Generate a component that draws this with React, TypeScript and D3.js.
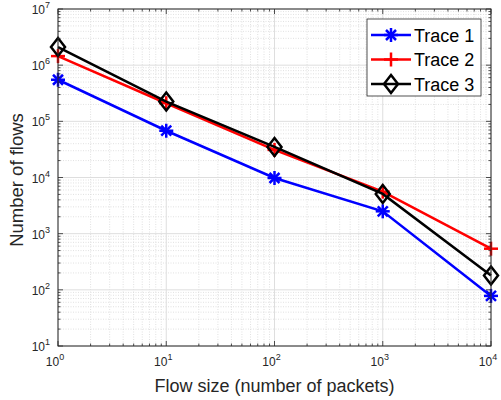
import React from 'react';
import * as d3 from 'd3';

const flowSizes = [1, 10, 100, 1000, 10000];
const trace1 = [5.5e5, 6.8e4, 9.8e3, 2.5e3, 78];
const trace2 = [1.45e6, 2.1e5, 3.1e4, 5.6e3, 540];
const trace3 = [2.1e6, 2.25e5, 3.5e4, 5.1e3, 180];
const seriesNames = ['Trace 1', 'Trace 2', 'Trace 3'];
const seriesColors = ['#0000ff', '#ff0000', '#000000'];
const seriesMarkers = ['asterisk', 'plus', 'diamond'];
const xTickExps = [0, 1, 2, 3, 4];
const yTickExps = [1, 2, 3, 4, 5, 6, 7];

const W = 501;
const H = 400;
const left = 58, right = 491, top = 9, bottom = 346;
const axisColor = '#262626';
const font = 'Arial, "Liberation Sans", Helvetica, sans-serif';
const lw = 2.5;

function Marker({ type, x, y, color }: { type: string; x: number; y: number; color: string }) {
  if (type === 'asterisk') {
    const r = 7, d = 5;
    return (
      <g stroke={color} strokeWidth={lw} fill="none">
        <line x1={x} y1={y - r} x2={x} y2={y + r} />
        <line x1={x - r} y1={y} x2={x + r} y2={y} />
        <line x1={x - d} y1={y - d} x2={x + d} y2={y + d} />
        <line x1={x - d} y1={y + d} x2={x + d} y2={y - d} />
      </g>
    );
  }
  if (type === 'plus') {
    const r = 7;
    return (
      <g stroke={color} strokeWidth={lw} fill="none">
        <line x1={x} y1={y - r} x2={x} y2={y + r} />
        <line x1={x - r} y1={y} x2={x + r} y2={y} />
      </g>
    );
  }
  const w = 7, h = 9;
  return (
    <path
      d={`M${x},${y - h}L${x + w},${y}L${x},${y + h}L${x - w},${y}Z`}
      stroke={color}
      strokeWidth={lw}
      fill="none"
    />
  );
}

export default function App() {
  const x = d3.scaleLog().domain([1, 1e4]).range([left, right]);
  const y = d3.scaleLog().domain([10, 1e7]).range([bottom, top]);
  const data = [trace1, trace2, trace3];

  const xMinor: number[] = [];
  for (let e = 0; e < 4; e++) for (let k = 2; k <= 9; k++) xMinor.push(k * Math.pow(10, e));
  const yMinor: number[] = [];
  for (let e = 1; e < 7; e++) for (let k = 2; k <= 9; k++) yMinor.push(k * Math.pow(10, e));

  const line = d3
    .line<number>()
    .x((_, i) => x(flowSizes[i]))
    .y((d) => y(d));

  const legX = 367, legY = 19, legW = 114, legH = 77;

  return (
    <svg
      width={W}
      height={H}
      style={{ position: 'absolute', left: 0, top: 0, background: '#fff' }}
      fontFamily={font}
    >
      <rect x={0} y={0} width={W} height={H} fill="#fff" />
      {/* minor grid */}
      <g stroke="#d4d4d4" strokeWidth={0.7} strokeDasharray="1,1.5">
        {xMinor.map((v) => (
          <line key={'xm' + v} x1={x(v)} x2={x(v)} y1={top} y2={bottom} />
        ))}
        {yMinor.map((v) => (
          <line key={'ym' + v} x1={left} x2={right} y1={y(v)} y2={y(v)} />
        ))}
      </g>
      {/* major grid */}
      <g stroke="#dedede" strokeWidth={1}>
        {xTickExps.map((e) => (
          <line key={'xg' + e} x1={x(10 ** e)} x2={x(10 ** e)} y1={top} y2={bottom} />
        ))}
        {yTickExps.map((e) => (
          <line key={'yg' + e} x1={left} x2={right} y1={y(10 ** e)} y2={y(10 ** e)} />
        ))}
      </g>
      {/* series */}
      {data.map((s, si) => (
        <g key={si}>
          <path d={line(s) || ''} fill="none" stroke={seriesColors[si]} strokeWidth={lw} />
          {s.map((v, i) => (
            <Marker key={i} type={seriesMarkers[si]} x={x(flowSizes[i])} y={y(v)} color={seriesColors[si]} />
          ))}
        </g>
      ))}
      {/* ticks */}
      <g stroke={axisColor} strokeWidth={0.8}>
        {xTickExps.map((e) => (
          <g key={'xt' + e}>
            <line x1={x(10 ** e)} x2={x(10 ** e)} y1={bottom} y2={bottom - 5} />
            <line x1={x(10 ** e)} x2={x(10 ** e)} y1={top} y2={top + 5} />
          </g>
        ))}
        {xMinor.map((v) => (
          <g key={'xmt' + v}>
            <line x1={x(v)} x2={x(v)} y1={bottom} y2={bottom - 2.5} />
            <line x1={x(v)} x2={x(v)} y1={top} y2={top + 2.5} />
          </g>
        ))}
        {yTickExps.map((e) => (
          <g key={'yt' + e}>
            <line x1={left} x2={left + 5} y1={y(10 ** e)} y2={y(10 ** e)} />
            <line x1={right} x2={right - 5} y1={y(10 ** e)} y2={y(10 ** e)} />
          </g>
        ))}
        {yMinor.map((v) => (
          <g key={'ymt' + v}>
            <line x1={left} x2={left + 2.5} y1={y(v)} y2={y(v)} />
            <line x1={right} x2={right - 2.5} y1={y(v)} y2={y(v)} />
          </g>
        ))}
      </g>
      {/* axis box */}
      <rect x={left} y={top} width={right - left} height={bottom - top} fill="none" stroke={axisColor} strokeWidth={1} />
      {/* tick labels */}
      <g fill={axisColor} fontSize={12}>
        {xTickExps.map((e) => (
          <text key={'xl' + e} x={x(10 ** e) - 3} y={bottom + 20} textAnchor="middle">
            10
            <tspan dy={-6} fontSize={9}>
              {e}
            </tspan>
          </text>
        ))}
        {yTickExps.map((e) => (
          <text key={'yl' + e} x={left - 8} y={y(10 ** e) + 5} textAnchor="end">
            10
            <tspan dy={-6} fontSize={9}>
              {e}
            </tspan>
          </text>
        ))}
      </g>
      {/* axis labels */}
      <text x={(left + right) / 2} y={392} textAnchor="middle" fontSize={18} fill={axisColor}>
        Flow size (number of packets)
      </text>
      <text
        transform={`translate(23,180) rotate(-90)`}
        textAnchor="middle"
        fontSize={18.5}
        fill={axisColor}
      >
        Number of flows
      </text>
      {/* legend */}
      <rect x={legX} y={legY} width={legW} height={legH} fill="#fff" stroke={axisColor} strokeWidth={0.8} />
      {seriesNames.map((name, i) => {
        const ly = legY + 16 + i * 24.5;
        return (
          <g key={name}>
            <line x1={legX + 4} x2={legX + 44} y1={ly} y2={ly} stroke={seriesColors[i]} strokeWidth={lw} />
            <Marker type={seriesMarkers[i]} x={legX + 24} y={ly} color={seriesColors[i]} />
            <text x={legX + 47} y={ly + 6.5} fontSize={18} fill="#000">
              {name}
            </text>
          </g>
        );
      })}
    </svg>
  );
}
